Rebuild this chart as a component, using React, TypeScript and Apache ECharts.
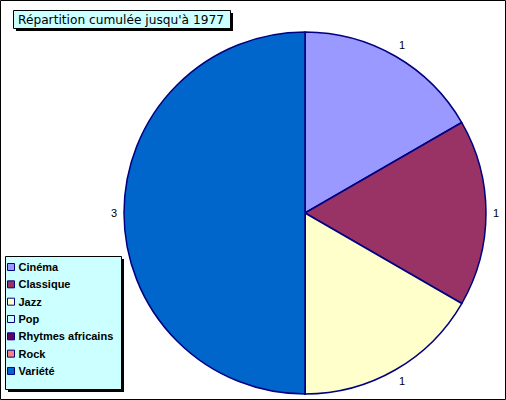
import { useEffect, useRef } from 'react';
import * as echarts from 'echarts';

const categories = ['Cinéma', 'Classique', 'Jazz', 'Pop', 'Rhytmes africains', 'Rock', 'Variété'];
const values = [1, 1, 1, 0, 0, 0, 3];
const colors = ['#9999FF', '#993366', '#FFFFCC', '#CCFFFF', '#660066', '#FF8080', '#0066CC'];
const titleText = "Répartition cumulée jusqu'à 1977";

const FONT = '"Liberation Sans", Arial, sans-serif';

export default function App() {
  const ref = useRef<HTMLDivElement>(null);
  useEffect(() => {
    if (!ref.current) return;
    const chart = echarts.init(ref.current, undefined, { renderer: 'svg' });
    const total = values.reduce((a, b) => a + b, 0);
    const midAngles: number[] = [];
    let acc = 0;
    values.forEach((v) => {
      midAngles.push(((acc + v / 2) / total) * Math.PI * 2);
      acc += v;
    });
    chart.setOption({
      animation: false,
      backgroundColor: '#ffffff',
      title: {
        text: titleText,
        left: 18,
        top: 13,
        padding: 0,
        z: 10,
        textStyle: { fontFamily: '"DejaVu Sans", sans-serif', fontSize: 12.2, fontWeight: 'normal', color: '#000', lineHeight: 13 },
      },
      graphic: [
        { type: 'rect', z: 0, shape: { x: 0.5, y: 0.5, width: 505, height: 399 }, style: { fill: 'none', stroke: '#000', lineWidth: 1 } },
        { type: 'rect', z: 1, shape: { x: 16, y: 13, width: 217, height: 18 }, style: { fill: '#000' } },
        { type: 'rect', z: 2, shape: { x: 13.5, y: 10.5, width: 217, height: 18 }, style: { fill: '#CCFFFF', stroke: '#000', lineWidth: 1 } },
        { type: 'rect', z: 1, shape: { x: 8, y: 259, width: 116, height: 133 }, style: { fill: '#000' } },
        { type: 'rect', z: 2, shape: { x: 5.5, y: 256.5, width: 116, height: 133 }, style: { fill: '#CCFFFF', stroke: '#000', lineWidth: 1 } },
      ],
      legend: {
        orient: 'vertical',
        left: 7,
        top: 261,
        padding: 0,
        itemWidth: 7,
        itemHeight: 7,
        itemGap: 5.33,
        icon: 'rect',
        z: 10,
        itemStyle: { borderColor: '#000080', borderWidth: 1 },
        textStyle: { fontFamily: FONT, fontSize: 11, fontWeight: 'bold', color: '#000', lineHeight: 12, padding: [0, 0, 0, -1] },
        data: categories,
      },
      series: [
        {
          type: 'pie',
          center: [305, 213],
          radius: 181,
          startAngle: 90,
          clockwise: true,
          avoidLabelOverlap: false,
          z: 5,
          itemStyle: { borderColor: '#000080', borderWidth: 1.5 },
          label: {
            show: true,
            position: 'outside',
            formatter: '{c}',
            color: '#000',
            fontFamily: FONT,
            fontSize: 11,
            distanceToLabelLine: 0,
          },
          labelLine: { show: false, length: 7, length2: 0 },
          labelLayout: (params: any) => {
            const a = midAngles[params.dataIndex];
            const c = Math.cos(a);
            return { verticalAlign: c > 0.5 ? 'bottom' : c < -0.5 ? 'top' : 'middle' };
          },
          emphasis: { disabled: true },
          data: categories.map((name, i) => ({
            name,
            value: values[i],
            itemStyle: { color: colors[i] },
            label: { show: values[i] > 0 },
          })),
        },
      ],
    });
    return () => chart.dispose();
  }, []);
  return (
    <div
      ref={ref}
      style={{ position: 'fixed', left: 0, top: 0, width: 506, height: 400, background: '#fff' }}
    />
  );
}
